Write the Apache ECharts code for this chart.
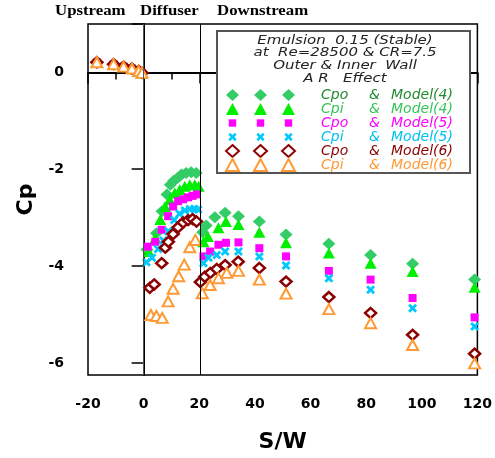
<!DOCTYPE html>
<html>
<head>
<meta charset="utf-8">
<script src="https://cdn.jsdelivr.net/npm/echarts@6/dist/echarts.min.js"></script>
<style>
  html, body { margin: 0; padding: 0; background: #fff; }
  #main { width: 495px; height: 458px; }
</style>
</head>
<body>
<div id="main"></div>
<script>
// upstream stations are shared by every run
var upS  = [-16.8, -10.8, -7.2, -4.2, -1.8, -0.6];
var upCp = [0.21, 0.17, 0.12, 0.08, 0.03, -0.01];

// Cpo Model(4)
var cpo4S  = [1.2, 4.6, 6.6, 8.4, 9.6, 10.8, 12.2, 13.6, 15.3, 17.1, 18.9,
              21.2, 22.5, 25.6, 29.3, 34.1, 41.6, 51.2, 66.6, 81.6, 96.7, 119];
var cpo4Cp = [-3.66, -3.32, -2.87, -2.52, -2.32, -2.24, -2.18, -2.11, -2.08, -2.06, -2.08,
              -3.30, -3.16, -2.99, -2.90, -2.97, -3.08, -3.35, -3.54, -3.77, -3.95, -4.28];
// Cpi Model(4)
var cpi4S  = [1.8, 4.2, 6.0, 7.7, 9.4, 11.2, 13.0, 14.8, 16.6, 18.4, 19.8,
              21.5, 23.1, 26.9, 29.6, 34.1, 41.6, 51.2, 66.6, 81.6, 96.7, 119];
var cpi4Cp = [-3.70, -3.42, -3.04, -2.77, -2.63, -2.49, -2.42, -2.35, -2.32, -2.32, -2.35,
              -3.50, -3.39, -3.21, -3.08, -3.14, -3.30, -3.52, -3.73, -3.94, -4.11, -4.44];
// Cpo Model(5)
var cpo5S  = [1.5, 4.2, 6.5, 8.8, 10.6, 12.4, 14.2, 16.0, 17.6, 19.2,
              21.5, 23.9, 26.9, 29.6, 34.1, 41.6, 51.2, 66.6, 81.6, 96.7, 119];
var cpo5Cp = [-3.60, -3.50, -3.25, -2.97, -2.77, -2.66, -2.62, -2.58, -2.55, -2.52,
              -3.80, -3.70, -3.56, -3.52, -3.51, -3.63, -3.80, -4.10, -4.28, -4.66, -5.06];
// Cpi Model(5)
var cpi5S  = [1.0, 3.0, 5.2, 7.1, 8.9, 11.0, 12.9, 14.8, 16.6, 18.2, 19.6,
              21.5, 23.3, 26.3, 29.3, 34.1, 41.6, 51.2, 66.6, 81.6, 96.7, 119];
var cpi5Cp = [-3.92, -3.83, -3.65, -3.47, -3.28, -3.05, -2.92, -2.85, -2.82, -2.82, -2.83,
              -3.94, -3.83, -3.77, -3.70, -3.70, -3.80, -3.99, -4.25, -4.49, -4.87, -5.25];
// Cpo Model(6)
var cpo6S  = [2.2, 3.8, 6.5, 7.8, 8.9, 10.6, 12.4, 14.2, 16.0, 17.6, 19.0,
              20.4, 22.0, 24.0, 26.3, 29.3, 34.0, 41.6, 51.2, 66.6, 81.6, 96.7, 119];
var cpo6Cp = [-4.45, -4.38, -3.94, -3.62, -3.50, -3.34, -3.20, -3.10, -3.05, -3.03, -3.08,
              -4.33, -4.22, -4.14, -4.06, -3.98, -3.91, -4.04, -4.32, -4.64, -4.97, -5.42, -5.81];
// Cpi Model(6)
var cpi6S  = [2.6, 4.6, 6.7, 8.8, 10.6, 12.6, 14.6, 16.6, 18.6,
              21.1, 23.9, 26.9, 29.9, 34.1, 41.6, 51.2, 66.6, 81.6, 96.7, 119];
var cpi6Cp = [-5.01, -5.03, -5.07, -4.73, -4.47, -4.21, -3.97, -3.61, -3.46,
              -4.56, -4.39, -4.25, -4.14, -4.10, -4.28, -4.57, -4.89, -5.18, -5.63, -6.01];

var names  = ['Cpo & Model(4)', 'Cpi & Model(4)', 'Cpo & Model(5)',
              'Cpi & Model(5)', 'Cpo & Model(6)', 'Cpi & Model(6)'];
var textColors = ['#1f8a2e', '#35c45a', '#ff00ff', '#00c0f0', '#8b0000', '#ff9933'];
var dividers = [0, 20.5];           // diffuser inlet / exit
var yTickVals = [-6, -4, -2, 0, 1];
var yLabelVals = [-6, -4, -2, 0];
var boxLines = ['Emulsion  0.15 (Stable)', 'at  Re=28500 & CR=7.5', 'Outer & Inner  Wall', 'A R   Effect'];
var regions = ['Upstream', 'Diffuser', 'Downstream'];

function pts(s, cp) {
  var xs = upS.concat(s), ys = upCp.concat(cp);
  return xs.map(function (v, i) { return [v, ys[i]]; });
}

// square and cross drawn inside a 13x13 frame so legend icons keep their size
var square = 'path://M0,0M13,13M2.5,2.5h8v8h-8z';
var cross = 'path://M0,0M13,13M4,2L6.5,4.5L9,2L11,4L8.5,6.5L11,9L9,11L6.5,8.5L4,11L2,9L4.5,6.5L2,4Z';

var series = [
  { name: names[0], type: 'scatter', data: pts(cpo4S, cpo4Cp), symbol: 'diamond', symbolSize: [13, 12],
    itemStyle: { color: '#33cc66', opacity: 1 },
    markLine: { silent: true, symbol: ['none', 'none'], label: { show: false },
      data: [{ xAxis: dividers[0], lineStyle: { color: '#555', width: 1, type: 'solid' } },
             { xAxis: dividers[1], lineStyle: { color: '#000', width: 1, type: 'solid' } }] } },
  { name: names[1], type: 'scatter', data: pts(cpi4S, cpi4Cp), symbol: 'triangle', symbolSize: [12, 11],
    itemStyle: { color: '#00ee00', opacity: 1 } },
  { name: names[2], type: 'scatter', data: pts(cpo5S, cpo5Cp), symbol: square, symbolSize: 13,
    itemStyle: { color: '#ff00ff', opacity: 1 } },
  { name: names[3], type: 'scatter', data: pts(cpi5S, cpi5Cp), symbol: cross, symbolSize: 13,
    itemStyle: { color: '#00c8ff', opacity: 1 } },
  { name: names[4], type: 'scatter', data: pts(cpo6S, cpo6Cp), symbol: 'diamond', symbolSize: [11, 10],
    itemStyle: { color: '#fff', borderColor: '#8b0000', borderWidth: 2.5, opacity: 1 } },
  { name: names[5], type: 'scatter', data: pts(cpi6S, cpi6Cp), symbol: 'triangle', symbolSize: [11, 10],
    itemStyle: { color: '#fff', borderColor: '#ff9933', borderWidth: 2, opacity: 1 } }
];

function makeRich(colors) {
  var rich = { s: { width: 21, lineHeight: 12 } };
  colors.forEach(function (c, i) {
    var f = { fontFamily: 'DejaVu Sans', fontStyle: 'italic', fontSize: 14, color: c, lineHeight: 12 };
    rich['a' + i] = Object.assign({ width: 48 }, f);
    rich['b' + i] = Object.assign({ width: 22 }, f);
    rich['c' + i] = Object.assign({}, f);
  });
  return rich;
}
function legendText(name) {
  var i = names.indexOf(name), p = name.split(' & ');
  return '{s| }{a' + i + '|' + p[0] + '}{b' + i + '|&}{c' + i + '|' + p[1] + '}';
}
// three legends side by side give the three repeated markers of each row;
// only the last one shows its text
function makeLegend(left, colors) {
  return { left: left, top: 88, padding: 0, orient: 'vertical', itemWidth: 13, itemHeight: 12, itemGap: 0,
    selectedMode: false, z: 10, data: names, formatter: legendText,
    textStyle: { fontFamily: 'DejaVu Sans', fontStyle: 'italic', fontSize: 14, lineHeight: 12, rich: makeRich(colors) } };
}
var hidden = textColors.map(function () { return 'rgba(0,0,0,0)'; });

var graphic = [
  { type: 'rect', z: 3, shape: { x: 217, y: 31, width: 253, height: 142 },
    style: { fill: '#fff', stroke: '#555', lineWidth: 2 } }
];
boxLines.forEach(function (t, i) {
  graphic.push({ type: 'text', z: 5, x: 345, y: [41, 53, 66, 79][i], scaleX: 1.25,
    style: { text: t, x: 0, y: 0, textAlign: 'center', textVerticalAlign: 'middle',
      font: 'italic 12px "DejaVu Sans"', fill: '#222' } });
});
regions.forEach(function (t, i) {
  graphic.push({ type: 'text', z: 5, x: [55, 140, 217][i], y: 11, scaleX: 1.12,
    style: { text: t, x: 0, y: 0, textAlign: 'left', textVerticalAlign: 'middle',
      font: 'bold 15px "Liberation Serif"', fill: '#000' } });
});

var myChart = echarts.init(document.getElementById('main'));
myChart.setOption({
  animation: false,
  backgroundColor: '#fff',
  grid: { left: 88, right: 17, top: 24, bottom: 83, show: true, borderColor: '#000', borderWidth: 1.5 },
  xAxis: {
    type: 'value', min: -20, max: 120, interval: 20,
    axisLine: { lineStyle: { color: '#000', width: 2 } },
    axisTick: { length: 11, lineStyle: { color: '#000', width: 1.5 } },
    minorTick: { show: true, splitNumber: 2, length: 7, lineStyle: { color: '#000', width: 1.5 } },
    splitLine: { show: false },
    axisLabel: { fontFamily: 'DejaVu Sans', fontWeight: 'bold', fontSize: 14, color: '#000', margin: 22 },
    name: 'S/W', nameLocation: 'middle', nameGap: 56,
    nameTextStyle: { fontFamily: 'DejaVu Sans', fontWeight: 'bold', fontSize: 22, color: '#000' }
  },
  yAxis: {
    type: 'value', min: -6.25, max: 1,
    axisLine: { show: true, lineStyle: { color: '#000', width: 2 } },
    axisTick: { show: true, customValues: yTickVals, length: 12, lineStyle: { color: '#000', width: 1.5 } },
    splitLine: { show: false },
    axisLabel: { customValues: yLabelVals, fontFamily: 'DejaVu Sans', fontWeight: 'bold', fontSize: 14,
      color: '#000', margin: 24 },
    name: 'Cp', nameLocation: 'middle', nameRotate: 90, nameGap: 50,
    nameTextStyle: { fontFamily: 'DejaVu Sans', fontWeight: 'bold', fontSize: 22, color: '#000' }
  },
  legend: [
    makeLegend(225, hidden),
    makeLegend(253, hidden),
    makeLegend(281, textColors)
  ],
  graphic: graphic,
  series: series
});
</script>
</body>
</html>
